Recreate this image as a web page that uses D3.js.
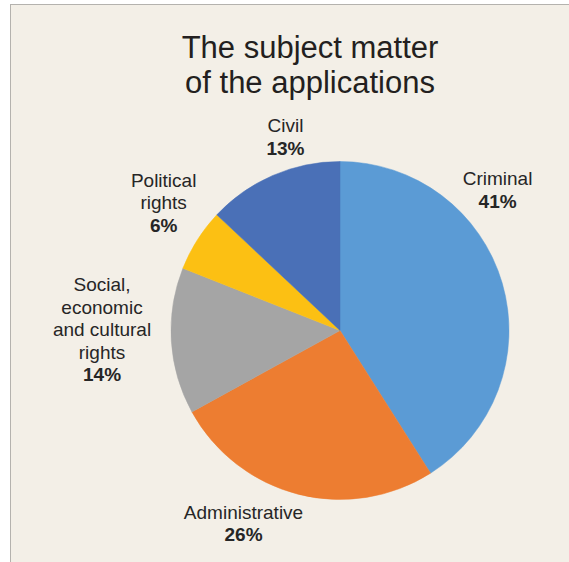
<!DOCTYPE html>
<html>
<head>
<meta charset="utf-8">
<script src="https://cdn.jsdelivr.net/npm/d3@7"></script>
<style>
  html, body { margin: 0; padding: 0; background: #ffffff; }
  svg { display: block; }
  text { font-family: "Liberation Sans", Arial, sans-serif; }
</style>
</head>
<body>
<svg id="chart" width="569" height="562"></svg>
<script>
// Subject matter of applications, share of total (%)
const categories = ["Criminal", "Administrative", "Social, economic and cultural rights", "Political rights", "Civil"];
const shares = [41, 26, 14, 6, 13];
const labelLines = [["Criminal"], ["Administrative"], ["Social,", "economic", "and cultural", "rights"], ["Political", "rights"], ["Civil"]];
const sliceColors = ["#5b9bd5", "#ed7d31", "#a5a5a5", "#fcc013", "#4a70b7"];
const titleLines = ["The subject matter", "of the applications"];

const W = 569, H = 562;
const cx = 340, cy = 330.5, radius = 169;
const lineH = 22.5;

// Label placement around the pie: polar position (degrees clockwise from 12 o'clock, distance from centre)
const labelSpots = {
  "Criminal": [48.2, 211.4],
  "Administrative": [206.6, 215.5],
  "Social, economic and cultural rights": [270.2, 238],
  "Political rights": [306, 218],
  "Civil": [344.3, 201.5]
};

const svg = d3.select("#chart");

// panel background with its top and left rules
svg.append("rect").attr("x", 10).attr("y", 4).attr("width", W - 10).attr("height", H - 4).attr("fill", "#f3efe7");
svg.append("line").attr("x1", 10.5).attr("y1", 4).attr("x2", 10.5).attr("y2", H).attr("stroke", "#b4b2ae").attr("stroke-width", 1);
svg.append("line").attr("x1", 10).attr("y1", 4.5).attr("x2", W).attr("y2", 4.5).attr("stroke", "#b4b2ae").attr("stroke-width", 1);

// title
svg.append("text")
  .attr("x", 310).attr("y", 57.7)
  .attr("text-anchor", "middle")
  .attr("font-size", 31).attr("fill", "#231f20")
  .selectAll("tspan").data(titleLines).join("tspan")
  .attr("x", 310).attr("dy", (d, i) => i === 0 ? 0 : 35.6)
  .text(d => d);

const color = d3.scaleOrdinal().domain(categories).range(sliceColors);
const pie = d3.pie().sort(null).value(d => d.value);
const arcs = pie(categories.map((c, i) => ({ name: c, value: shares[i], lines: labelLines[i] })));
const arc = d3.arc().innerRadius(0).outerRadius(radius);

const g = svg.append("g").attr("transform", `translate(${cx},${cy})`);
g.selectAll("path").data(arcs).join("path")
  .attr("d", arc)
  .attr("fill", d => color(d.data.name))
  .attr("stroke", d => color(d.data.name))
  .attr("stroke-width", 0.5);

// category name lines plus bold percentage
const labels = g.selectAll("text.lbl").data(arcs).join("text")
  .attr("class", "lbl")
  .attr("text-anchor", "middle")
  .attr("font-size", 19)
  .attr("fill", "#262626");

labels.each(function (d) {
  const [deg, dist] = labelSpots[d.data.name];
  const a = deg * Math.PI / 180;
  const x = dist * Math.sin(a);
  const yc = -dist * Math.cos(a);
  const rows = d.data.lines.concat([d.data.value + "%"]);
  const y0 = yc - (rows.length - 1) * lineH / 2 + 6.8;
  d3.select(this).selectAll("tspan").data(rows).join("tspan")
    .attr("x", x)
    .attr("y", (r, i) => y0 + i * lineH)
    .attr("font-weight", (r, i) => i === rows.length - 1 ? "bold" : "normal")
    .text(r => r);
});
</script>
</body>
</html>
